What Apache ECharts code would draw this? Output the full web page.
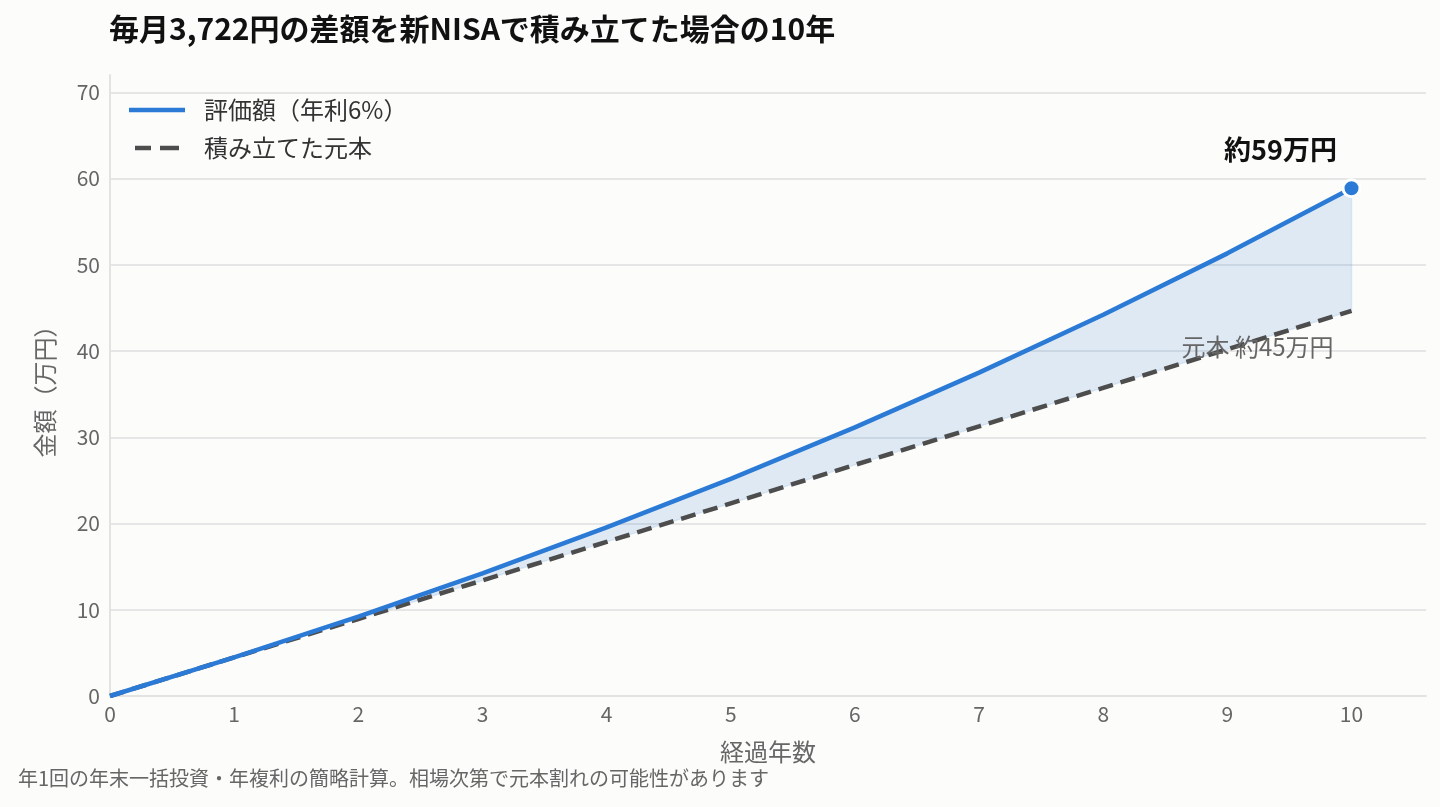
<!DOCTYPE html>
<html>
<head>
<meta charset="utf-8">
<title>新NISA 積立シミュレーション</title>
<script src="https://cdn.jsdelivr.net/npm/echarts@6/dist/echarts.min.js"></script>
<style>
    html, body { margin: 0; padding: 0; background: #fcfcfa; }
    #main { width: 1440px; height: 807px; }
</style>
</head>
<body>
<div id="main"></div>
<script>
// 経過年数
var years = [0, 1, 2, 3, 4, 5, 6, 7, 8, 9, 10];
// 評価額（年利6%） 万円
var valueData = [0, 4.47, 9.20, 14.22, 19.54, 25.18, 31.15, 37.49, 44.21, 51.32, 58.87];
// 積み立てた元本 万円
var principalData = [0, 4.47, 8.93, 13.40, 17.87, 22.33, 26.80, 31.26, 35.73, 40.20, 44.66];
var yTicks = [0, 10, 20, 30, 40, 50, 60, 70];

var FONT = '"Noto Sans CJK JP", "Noto Sans", sans-serif';
var BLUE = '#2b7bd6';
var DARK = '#4d4d4d';

function pairs(arr) {
    var out = [];
    for (var i = 0; i < years.length; i++) {
        out.push([years[i], arr[i]]);
    }
    return out;
}
var last = years.length - 1;

// 評価額と元本の間を塗る
function renderGap(params, api) {
    if (params.dataIndex !== 0) return;
    var pts = [];
    for (var i = 0; i < years.length; i++) {
        pts.push(api.coord([years[i], valueData[i]]));
    }
    for (var j = years.length - 1; j >= 0; j--) {
        pts.push(api.coord([years[j], principalData[j]]));
    }
    return {
        type: 'polygon',
        shape: { points: pts },
        style: {
            fill: 'rgba(43,123,214,0.14)',
            stroke: 'rgba(43,123,214,0.12)',
            lineWidth: 1.5
        },
        silent: true
    };
}

var myChart = echarts.init(document.getElementById('main'));
var option = {
    backgroundColor: '#fcfcfa',
    textStyle: { fontFamily: FONT },
    title: {
        text: '毎月3,722円の差額を新NISAで積み立てた場合の10年',
        left: 104,
        top: 9,
        textStyle: { fontSize: 30, fontWeight: 'bold', color: '#111', fontFamily: FONT }
    },
    legend: {
        data: [
            { name: '評価額（年利6%）', icon: 'path://M0,0 L56,0 L56,4.5 L0,4.5 Z' },
            { name: '積み立てた元本', icon: 'path://M2,0 L18,0 L18,4.5 L2,4.5 Z M27,0 L46,0 L46,4.5 L27,4.5 Z' }
        ],
        orient: 'vertical',
        left: 124,
        top: 93,
        itemWidth: 56,
        itemHeight: 4.5,
        itemGap: 14,
        textStyle: { fontSize: 24, color: '#333', padding: [0, 0, 0, 14], fontFamily: FONT }
    },
    grid: { left: 110, right: 14, top: 75, bottom: 111 },
    xAxis: {
        type: 'value',
        min: 0,
        max: 10.6,
        interval: 1,
        name: '経過年数',
        nameLocation: 'middle',
        nameGap: 44,
        nameTextStyle: { fontSize: 24, color: '#666', fontFamily: FONT },
        axisLine: { lineStyle: { color: '#e3e3e3', width: 2 } },
        axisTick: { show: false },
        splitLine: { show: false },
        axisLabel: { fontSize: 21, color: '#666', margin: 8, showMaxLabel: false }
    },
    yAxis: {
        type: 'value',
        min: yTicks[0],
        max: 72,
        interval: 10,
        name: '金額（万円）',
        nameLocation: 'middle',
        nameGap: 53,
        nameTextStyle: { fontSize: 24, color: '#666', fontFamily: FONT },
        axisLine: { show: true, lineStyle: { color: '#e3e3e3', width: 2 } },
        axisTick: { show: false },
        splitLine: { show: true, showMaxLine: false, lineStyle: { color: '#e6e6e6', width: 2 } },
        axisLabel: { fontSize: 21, color: '#666', margin: 10, showMaxLabel: false }
    },
    series: [
        {
            name: 'gap',
            type: 'custom',
            renderItem: renderGap,
            data: [[years[0], valueData[0]]],
            z: 1,
            silent: true
        },
        {
            name: '積み立てた元本',
            type: 'line',
            data: pairs(principalData),
            symbol: 'none',
            z: 3,
            lineStyle: { color: DARK, width: 4.5, type: [15, 8] },
            itemStyle: { color: DARK },
            endLabel: {
                show: true,
                formatter: '元本 約45万円',
                fontSize: 24,
                color: '#666',
                offset: [-178, 36],
                fontFamily: FONT
            }
        },
        {
            name: '評価額（年利6%）',
            type: 'line',
            data: pairs(valueData),
            symbol: 'none',
            z: 4,
            lineStyle: { color: BLUE, width: 4.5 },
            itemStyle: { color: BLUE }
        },
        {
            name: 'end',
            type: 'scatter',
            data: [[years[last], valueData[last]]],
            symbolSize: 17,
            z: 5,
            itemStyle: { color: BLUE, opacity: 1, borderColor: '#fff', borderWidth: 3 },
            label: {
                show: true,
                position: 'top',
                formatter: '約59万円',
                offset: [-71, -10],
                fontSize: 27,
                fontWeight: 'bold',
                color: '#111',
                fontFamily: FONT
            }
        }
    ],
    graphic: [{
        type: 'text',
        left: 18,
        top: 768,
        style: {
            text: '年1回の年末一括投資・年複利の簡略計算。相場次第で元本割れの可能性があります',
            fontSize: 20,
            fill: '#666',
            fontFamily: FONT
        }
    }]
};
myChart.setOption(option);
</script>
</body>
</html>
